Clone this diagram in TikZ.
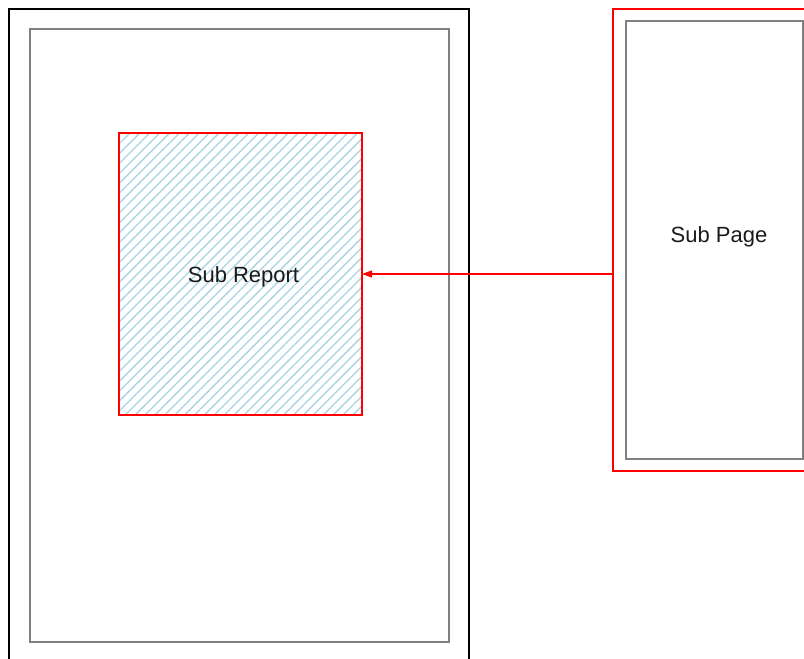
\documentclass[tikz,border=0pt]{standalone}
\usepackage{fontspec}
\setmainfont{Liberation Sans}
\usepackage{tikz}
\usetikzlibrary{arrows.meta,positioning,calc,patterns.meta}
\definecolor{pageK}{HTML}{000000}
\definecolor{frameG}{HTML}{808080}
\definecolor{linkR}{HTML}{FF0000}
\definecolor{hatchB}{HTML}{A8D4E2}
\definecolor{txtD}{HTML}{1A1A1A}
\tikzset{
  pagebox/.style={rectangle, draw=#1, line width=1.4pt, inner sep=0pt, outer sep=0pt, anchor=north west},
  subbox/.style={rectangle, draw=linkR, line width=1.3pt, inner sep=0pt, outer sep=0pt, anchor=north west},
  lbl/.style={font=\fontsize{22}{26}\selectfont, text=txtD},
  arr/.style={-{Triangle[length=10pt,width=7pt]}, line width=1.2pt, draw=linkR},
}
\begin{document}
\begin{tikzpicture}[x=1pt,y=-1pt]
    \useasboundingbox (0,0) rectangle (804,659);
    % main report page
    \node[pagebox=pageK, minimum width=460pt, minimum height=670pt] (page) at (9,9){};
    \node[pagebox=frameG, minimum width=419pt, minimum height=613pt] (body) at (30,29){};
    \node[subbox, minimum width=243pt, minimum height=282pt,
          pattern={Lines[angle=45,distance=7pt,line width=1.3pt]}, pattern color=hatchB] (subrep) at (119,133){};
    \node[lbl] (replbl) at ($(subrep.center)+(3,3)$){Sub Report};
    % sub page on the right
    \node[subbox, minimum width=203pt, minimum height=462pt] (subpage) at (613,9){};
    \node[pagebox=frameG, line width=1.2pt, minimum width=177pt, minimum height=438pt] (subbody) at (626,21){};
    \node[lbl] (pagelbl) at (719,237){Sub Page};
    \draw[arr](subrep.east -| subpage.west)--(subrep.east);
  \end{tikzpicture}
\end{document}
